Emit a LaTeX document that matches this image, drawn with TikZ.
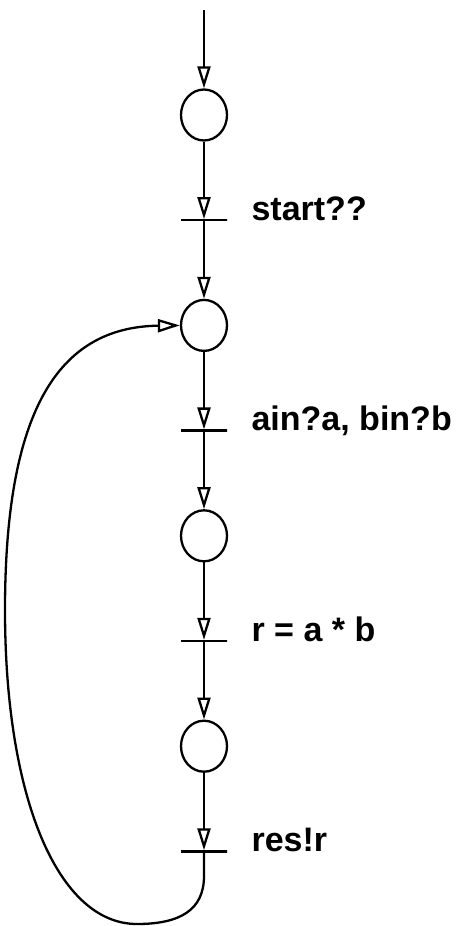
\documentclass[tikz,border=0pt]{standalone}
\usepackage{fontspec}
\setmainfont{Liberation Sans}
\usepackage{tikz}
\usetikzlibrary{shapes.geometric, arrows.meta, positioning}
\tikzstyle{place} = [ellipse, minimum width=23pt, minimum height=25.5pt, inner sep=0pt, draw=black, line width=1.15pt]
\tikzstyle{trans} = [rectangle, minimum width=23pt, minimum height=0pt, inner sep=0pt, draw=black, line width=1.15pt]
\tikzstyle{lbl} = [anchor=base west, inner sep=0pt, font=\bfseries\fontsize{17}{20}\selectfont]
\tikzstyle{arrow2} = [line width=1.15pt, -{Triangle[open, length=11pt, width=6.5pt]}]

\begin{document}
\begin{tikzpicture}[x=1pt, y=1pt]
            \useasboundingbox (0,0) rectangle (230,-463);

            % Place nodes
            \coordinate (start) at (102,-5);
            \node (p1) [place, below of=start, node distance=52.5pt] {};
            \node (t1) [trans, below of=p1, node distance=52.6pt] {};
            \node (p2) [place, below of=t1, node distance=52.6pt] {};
            \node (t2) [trans, below of=p2, node distance=52.6pt] {};
            \node (p3) [place, below of=t2, node distance=52.6pt] {};
            \node (t3) [trans, below of=p3, node distance=52.6pt] {};
            \node (p4) [place, below of=t3, node distance=52.6pt] {};
            \node (t4) [trans, below of=p4, node distance=52.6pt] {};

            % Labels
            \node (l1) [lbl] at ([xshift=11.5pt]t1.east) {start??};
            \node (l2) [lbl] at ([xshift=11.5pt]t2.east) {ain?a, bin?b};
            \node (l3) [lbl] at ([xshift=11.5pt]t3.east) {r = a * b};
            \node (l4) [lbl] at ([xshift=11.5pt]t4.east) {res!r};

            % Draw edges
            \draw [arrow2] (start) -- (p1);
            \draw [arrow2] (p1) -- (t1);
            \draw [arrow2] (t1) -- (p2);
            \draw [arrow2] (p2) -- (t2);
            \draw [arrow2] (t2) -- (p3);
            \draw [arrow2] (p3) -- (t3);
            \draw [arrow2] (t3) -- (p4);
            \draw [arrow2] (p4) -- (t4);
            \draw [arrow2] (t4.south) -- (102,-438)
                .. controls (102,-455) and (90,-462) .. (68.5,-462)
                .. controls (29,-462) and (2.5,-399) .. (2.5,-305)
                .. controls (2.5,-205.6) and (28.9,-163.5) .. (p2.west);
        \end{tikzpicture}
\end{document}
